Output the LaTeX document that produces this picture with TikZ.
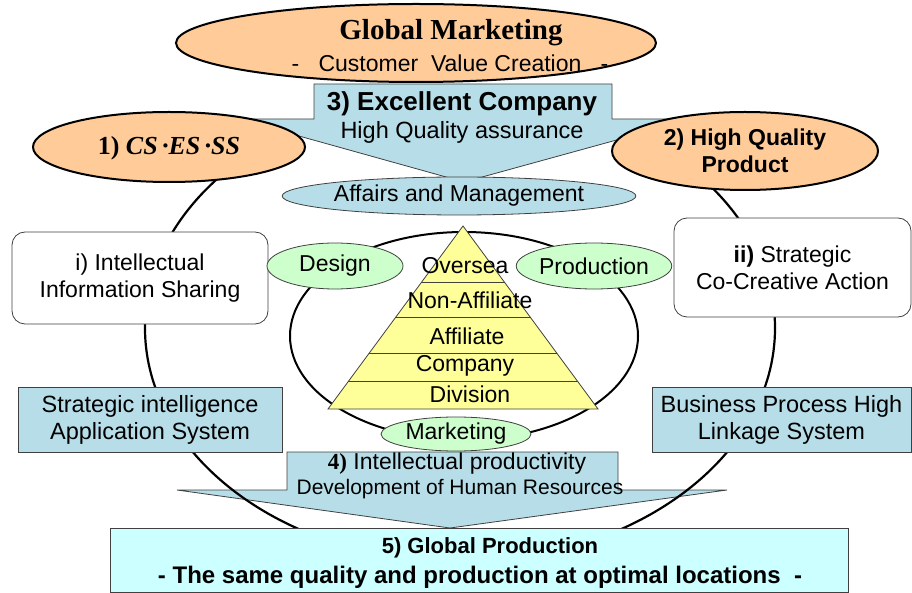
\documentclass[tikz,border=0pt]{standalone}
\usepackage{fontspec}
\setmainfont{Liberation Serif}
\setsansfont{Liberation Sans}
\usetikzlibrary{shapes.geometric}
\definecolor{peach}{RGB}{255,204,153}
\definecolor{paleblue}{RGB}{183,222,232}
\definecolor{palegreen}{RGB}{204,255,204}
\definecolor{paleyellow}{RGB}{255,255,153}
\definecolor{palecyan}{RGB}{204,255,255}
\definecolor{edgegray}{RGB}{64,64,64}
\newcommand{\txtsize}[1]{\fontsize{#1}{27}\selectfont}

\begin{document}
\begin{tikzpicture}[x=1pt, y=-1pt,
    oval/.style={ellipse, draw=black, line width=2pt, fill=peach, inner sep=0pt},
    bubble/.style={ellipse, draw=edgegray, line width=0.8pt, fill=palegreen, inner sep=0pt, font=\sffamily\txtsize{23}},
    arrowbox/.style={draw=edgegray, line width=0.8pt, fill=paleblue},
    panel/.style={draw=edgegray, line width=0.8pt, fill=paleblue, align=center, font=\sffamily\txtsize{23.5}},
    card/.style={draw=edgegray, line width=0.8pt, fill=white, rounded corners=13pt, align=center, font=\sffamily\txtsize{23}},
    txt/.style={align=center, inner sep=0pt, font=\sffamily\txtsize{23}}]
    \useasboundingbox (0,0) rectangle (912,593);

    \draw[arrowbox] (287,452) -- (618,452) -- (618,490) -- (727,490) -- (450,528) -- (177,490) -- (287,490) -- cycle;
    \draw[line width=2.2pt] (460,328) ellipse [x radius=315pt, y radius=234pt];
    \draw[arrowbox] (314,84) -- (612,84) -- (612,119) -- (693,119) -- (464,182) -- (238,119) -- (314,119) -- cycle;

    \node[oval, minimum width=480pt, minimum height=78pt] (market) at (416,43) {};
    \node[oval, minimum width=272pt, minimum height=70pt] (cses) at (169,147) {};
    \node[oval, minimum width=266pt, minimum height=78pt] (quality) at (745,151) {};

    \node[card, minimum width=256pt, minimum height=92pt] (sharing) at (140,278) {i) Intellectual\\Information Sharing};
    \node[card, minimum width=237pt, minimum height=99pt] (cocreate) at (792.5,267.5) {\textbf{ii)} Strategic\\Co-Creative Action};
    \node[panel, minimum width=264pt, minimum height=65pt] (intel) at (150,419.5) {Strategic intelligence\\Application System};
    \node[panel, minimum width=259pt, minimum height=65pt] (linkage) at (781.5,419.5) {Business Process High\\Linkage System};

    \draw[line width=2pt] (464,336) ellipse [x radius=174pt, y radius=104pt];
    \coordinate (apex) at (463,226);
    \coordinate (baseL) at (328,409);
    \coordinate (baseR) at (598,409);
    \fill[paleyellow] (apex) -- (baseR) -- (baseL) -- cycle;
    \begin{scope}
        \clip (apex) -- (baseR) -- (baseL) -- cycle;
        \foreach \y in {282,317,353,381}
            \draw[edgegray, line width=0.9pt] (300,\y) -- (630,\y);
    \end{scope}
    \draw[edgegray, line width=0.8pt] (apex) -- (baseR) -- (baseL) -- cycle;

    \node[bubble, fill=paleblue, minimum width=308pt, minimum height=38pt] (affairs) at (459,196) {Affairs and Management};
    \node[bubble, minimum width=136pt, minimum height=46pt] (design) at (335,266) {Design};
    \node[bubble, minimum width=126pt, minimum height=46pt] (production) at (594,266) {Production};
    \node[bubble, minimum width=150pt, minimum height=34pt] (marketing) at (456,434) {Marketing};

    \node[txt] (oversea) at (465,266) {Oversea};
    \node[txt] (nonaff) at (470,300) {Non-Affiliate};
    \node[txt] (affiliate) at (467,336) {Affiliate};
    \node[txt] (company) at (465,366) {Company};
    \node[txt] (division) at (470,394) {Division};

    \node[panel, fill=palecyan, minimum width=738pt, minimum height=64pt] (globalprod) at (479,560) {};

    \node[txt, font=\rmfamily\bfseries\txtsize{29}] (marketT) at (451,33) {Global Marketing};
    \node[txt, font=\sffamily\txtsize{23}] (marketS) at (450,63) {-\ \ \ Customer\ \ Value Creation\ \ \ -};
    \node[txt, font=\rmfamily\bfseries\txtsize{26}] (csesT) at (169,148) {1) \textit{CS\,·ES\,·SS}};
    \node[txt, font=\sffamily\bfseries\txtsize{23}] (qualityT) at (745,151) {2) High Quality\\Product};
    \node[txt, font=\sffamily\bfseries\txtsize{26}] (excelT) at (462,104) {3) Excellent Company};
    \node[txt, font=\sffamily\txtsize{23.5}] (excelS) at (462,132) {High Quality assurance};
    \node[txt, font=\sffamily\txtsize{23}] (intprodT) at (457,464) {{\rmfamily\bfseries 4)} Intellectual productivity};
    \node[txt, font=\sffamily\txtsize{21}] (intprodS) at (460,489) {Development of Human Resources};
    \node[txt, font=\sffamily\bfseries\txtsize{22}] (globalT) at (490,548) {5) Global Production};
    \node[txt, font=\sffamily\bfseries\txtsize{24}] (globalS) at (480,577) {- The same quality and production at optimal locations\ \ -};
\end{tikzpicture}
\end{document}
